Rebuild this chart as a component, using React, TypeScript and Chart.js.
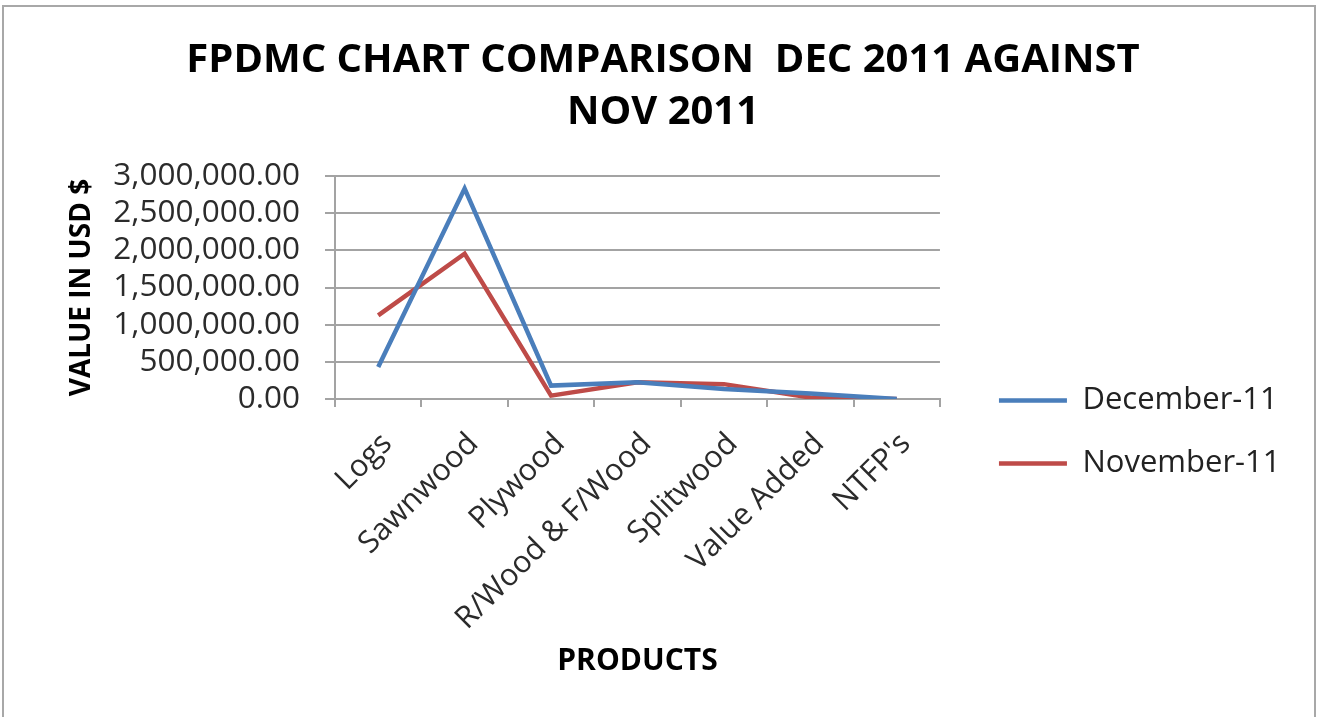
import React, { useEffect, useRef } from 'react';
import { Chart, registerables } from 'chart.js';

Chart.register(...registerables);

// ---- data ----
const categories = ['Logs', 'Sawnwood', 'Plywood', 'R/Wood & F/Wood', 'Splitwood', 'Value Added', "NTFP's"];
const december = [430000, 2830000, 180000, 225000, 135000, 75000, 0];
const november = [1125000, 1955000, 45000, 225000, 200000, 20000, 0];
const seriesNames = ['December-11', 'November-11'];
const titleLines = ['FPDMC CHART COMPARISON  DEC 2011 AGAINST', 'NOV 2011'];
const yTitle = 'VALUE IN USD $';
const xTitle = 'PRODUCTS';
const yMin = 0;
const yMax = 3000000;
const yStep = 500000;

const BLUE = '#4a7ebb';
const RED = '#be4b48';
const GRID = '#a3a3a3';
const TXT = '#2b2b2b';

const W = 1320;
const H = 717;

export default function App() {
  const ref = useRef<HTMLCanvasElement | null>(null);

  useEffect(() => {
    if (!ref.current) return;
    Chart.defaults.font.family = "'Open Sans', sans-serif";
    const chart = new Chart(ref.current, {
      type: 'line',
      data: {
        labels: categories,
        datasets: [
          {
            label: seriesNames[0],
            data: december,
            borderColor: BLUE,
            backgroundColor: BLUE,
            borderWidth: 4.5,
            pointRadius: 0,
            tension: 0,
            yAxisID: 'y',
          },
          {
            label: seriesNames[1],
            data: november,
            borderColor: RED,
            backgroundColor: RED,
            borderWidth: 4.5,
            pointRadius: 0,
            tension: 0,
            yAxisID: 'y',
          },
        ],
      },
      options: {
        responsive: false,
        animation: false,
        events: [],
        layout: { padding: { top: 10, left: 35.5, right: 29.5, bottom: 10 } },
        plugins: {
          title: {
            display: true,
            text: titleLines,
            color: '#000',
            font: { size: 40, weight: 'bold', lineHeight: 1.3 },
            padding: { top: 25, bottom: 37 },
          },
          legend: {
            position: 'right',
            align: 'start',
            maxWidth: 500,
            title: {
              display: true,
              text: ' ',
              font: { size: 10, lineHeight: 1 },
              padding: { top: 333, bottom: 0 },
            },
            labels: {
              boxWidth: 68,
              boxHeight: 0,
              padding: 32,
              color: '#222',
              font: { size: 31 },
            },
          },
          tooltip: { enabled: false },
        },
        scales: {
          x: {
            type: 'category',
            offset: true,
            grid: {
              display: true,
              offset: true,
              drawOnChartArea: false,
              drawTicks: true,
              tickLength: 8,
              color: GRID,
              lineWidth: 2,
            },
            border: { display: true, color: GRID, width: 2 },
            ticks: {
              autoSkip: false,
              maxRotation: 45,
              minRotation: 45,
              padding: 19,
              labelOffset: 9,
              color: TXT,
              font: { size: 30.5 },
            },
            title: {
              display: true,
              text: xTitle,
              color: '#000',
              font: { size: 30, weight: 'bold', lineHeight: 1.2 },
              padding: { top: 0, bottom: 28 },
            },
            afterFit: (s: any) => {
              s.height = 308;
            },
          },
          y: {
            type: 'linear',
            min: yMin,
            max: yMax,
            ticks: {
              stepSize: yStep,
              autoSkip: false,
              padding: 25,
              color: TXT,
              font: { size: 31.5, lineHeight: 1 },
              callback: (v: any) =>
                Number(v).toLocaleString('en-US', { minimumFractionDigits: 2, maximumFractionDigits: 2 }),
            },
            grid: { color: GRID, lineWidth: 2, tickLength: 10, drawTicks: true },
            border: { display: true, color: GRID, width: 2 },
            title: {
              display: true,
              text: yTitle,
              color: '#000',
              font: { size: 28, weight: 'bold', lineHeight: 1.2 },
              padding: { top: 30, bottom: 0 },
            },
            afterFit: (s: any) => {
              s.width = 299.5;
            },
          },
          gap: {
            type: 'linear',
            position: 'right',
            display: true,
            grid: { display: false, drawTicks: false },
            border: { display: false },
            ticks: { display: false },
            afterFit: (s: any) => {
              s.width = 27;
            },
          },
        },
      } as any,
    });
    return () => chart.destroy();
  }, []);

  return (
    <div style={{ position: 'fixed', left: 0, top: 0, width: W, height: H, overflow: 'hidden', background: '#fff' }}>
      <canvas ref={ref} width={W} height={H} style={{ position: 'absolute', left: 0, top: 0, display: 'block' }} />
      <div
        style={{
          position: 'absolute',
          left: 2,
          top: 5,
          width: 1314,
          height: 800,
          border: '2px solid #a8a8a8',
          boxSizing: 'border-box',
          pointerEvents: 'none',
        }}
      />
    </div>
  );
}
